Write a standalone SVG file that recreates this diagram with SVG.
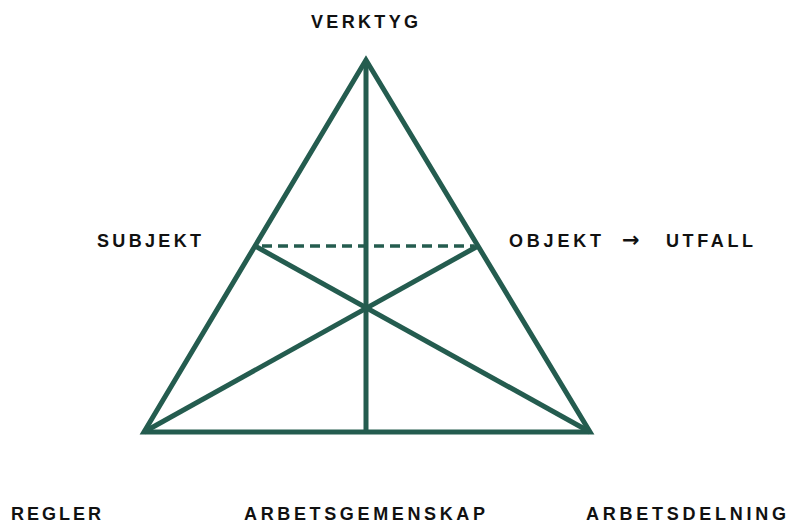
<svg xmlns="http://www.w3.org/2000/svg" width="792" height="525" viewBox="0 0 792 525">
<style>
.lbl{font-family:"Liberation Sans",Arial,sans-serif;font-weight:bold;font-size:18px;fill:#111;letter-spacing:3px}
.ln{stroke:#245c4f;stroke-width:5;fill:none;stroke-linejoin:miter;stroke-miterlimit:20}
.dash{stroke:#245c4f;stroke-width:3.5;fill:none;stroke-dasharray:10 6}
</style>
<rect width="792" height="525" fill="#fff"/>
<g id="connectors">
<polygon class="ln" points="366,60 144,432 590,432"/>
<line class="ln" x1="366" y1="60" x2="366" y2="432"/>
<line class="ln" x1="144" y1="432" x2="478" y2="246"/>
<line class="ln" x1="590" y1="432" x2="255" y2="246"/>
<line class="dash" x1="262" y1="246" x2="474" y2="246"/>
</g>
<g id="verktyg"><text class="lbl" x="311" y="28" textLength="110" lengthAdjust="spacing">VERKTYG</text></g>
<g id="subjekt"><text class="lbl" x="97" y="247" textLength="107" lengthAdjust="spacing">SUBJEKT</text></g>
<g id="objekt"><text class="lbl" x="509" y="247" textLength="95" lengthAdjust="spacing">OBJEKT</text>
<text x="622" y="247" style="font-family:'DejaVu Sans',sans-serif;font-weight:bold;font-size:21px;fill:#111">→</text>
<text class="lbl" x="666" y="247" textLength="90" lengthAdjust="spacing">UTFALL</text></g>
<g id="regler"><text class="lbl" x="11" y="520" textLength="93" lengthAdjust="spacing">REGLER</text></g>
<g id="arbetsgemenskap"><text class="lbl" x="244" y="520" textLength="244" lengthAdjust="spacing">ARBETSGEMENSKAP</text></g>
<g id="arbetsdelning"><text class="lbl" x="586" y="520" textLength="203" lengthAdjust="spacing">ARBETSDELNING</text></g>
</svg>
